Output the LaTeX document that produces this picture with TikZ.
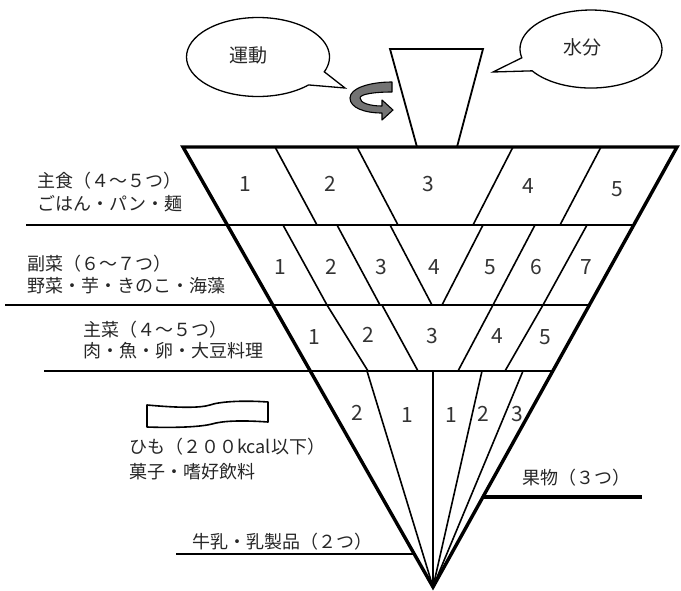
\documentclass[tikz,border=0pt]{standalone}
\usepackage{fontspec}
\setmainfont{Noto Sans CJK JP}
\begin{document}
\begin{tikzpicture}[x=1pt,y=-1pt,
  edge/.style={line width=3.4pt, line join=miter},
  rowline/.style={line width=2.4pt},
  divline/.style={line width=1.6pt},
  lbl/.style={anchor=west, inner sep=0pt, font=\fontsize{18}{18}\selectfont, text=black!85},
  num/.style={inner sep=0pt, font=\fontsize{21}{21}\selectfont, text=black!80},
  bubble/.style={line width=1.3pt, fill=white},
  bubtext/.style={inner sep=0pt, font=\fontsize{19}{19}\selectfont, text=black!85},
]
\useasboundingbox (0,0) rectangle (681,590);

% main coordinates
\coordinate (TL) at (183,147);
\coordinate (TR) at (677,147);
\coordinate (A) at (433,587);
\coordinate (L1) at (227,225); \coordinate (R1) at (634,225); \coordinate (E1) at (26,225);
\coordinate (L2) at (273,305); \coordinate (R2) at (589,305); \coordinate (E2) at (5,305);
\coordinate (L3) at (310,371); \coordinate (R3) at (553,371); \coordinate (E3) at (44,371);
\coordinate (M1) at (176,554); \coordinate (M2) at (414,554);
\coordinate (F1) at (483,497); \coordinate (F2) at (642,497);

% speech bubbles
\draw[bubble] (308.56,84.93) arc[start angle=45, end angle=382, x radius=71.5, y radius=39.5] -- (345,88) -- cycle;
\node[bubtext] (undo) at (248,55) {運動};
\draw[bubble] (521.8,57.8) arc[start angle=167, end angle=506, x radius=71, y radius=39] -- (493,72) -- cycle;
\node[bubtext] (water) at (582,47) {水分};

% cup (water)
\coordinate (C1) at (390,49); \coordinate (C2) at (483,49);
\coordinate (C3) at (457,147); \coordinate (C4) at (417,147);
\draw[line width=1.8pt, line join=miter] (C4) -- (C1) -- (C2) -- (C3);

% rotating arrow
\filldraw[fill=black!55, draw=black, line width=1.1pt, line join=round]
  (392,82) .. controls (370,82) and (350,88) .. (350,98)
  .. controls (350,108) and (365,113) .. (382,113)
  -- (382,120) -- (393,110) -- (382,100) -- (382,106)
  .. controls (370,106) and (360,103) .. (360,98)
  .. controls (360,94) and (375,92) .. (392,92) -- cycle;

% row lines
\draw[rowline] (E1) -- (R1);
\draw[rowline] (E2) -- (R2);
\draw[rowline] (E3) -- (R3);
\draw[rowline] (M1) -- (M2);
\draw[line width=3.2pt] (F1) -- (F2);

% row 1 dividers
\draw[divline] (275,147) -- (317,225);
\draw[divline] (357,147) -- (398,225);
\draw[divline] (513,147) -- (473,225);
\draw[divline] (601,147) -- (560,225);
% row 2 dividers
\draw[divline] (283,225) -- (327,305);
\draw[divline] (337,225) -- (380,305);
\draw[divline] (390,225) -- (432,305);
\draw[divline] (483,225) -- (442,305);
\draw[divline] (535,225) -- (493,305);
\draw[divline] (587,225) -- (543,305);
% row 3 dividers
\draw[divline] (327,305) -- (368,371);
\draw[divline] (382,305) -- (418,371);
\draw[divline] (493,305) -- (458,371);
\draw[divline] (543,305) -- (505,371);
% bottom fan
\draw[divline] (367,371) -- (A);
\draw[divline] (433,371) -- (A);
\draw[divline] (482,371) -- (A);
\draw[divline] (523,371) -- (A);

% outer outline
\draw[edge] (TL) -- (TR) -- (A) -- cycle;

% cell numbers
\node[num] (a1) at (245,184) {1};
\node[num] (a2) at (330,184) {2};
\node[num] (a3) at (428,184) {3};
\node[num] (a4) at (528,186) {4};
\node[num] (a5) at (617,189) {5};

\node[num] (b1) at (280,267) {1};
\node[num] (b2) at (331,267) {2};
\node[num] (b3) at (381,267) {3};
\node[num] (b4) at (434,267) {4};
\node[num] (b5) at (490,267) {5};
\node[num] (b6) at (536,267) {6};
\node[num] (b7) at (586,267) {7};

\node[num] (c1) at (314,337) {1};
\node[num] (c2) at (368,335) {2};
\node[num] (c3) at (432,336) {3};
\node[num] (c4) at (497,336) {4};
\node[num] (c5) at (545,337) {5};

\node[num] (d1) at (357,413) {2};
\node[num] (d2) at (407,415) {1};
\node[num] (d3) at (451,415) {1};
\node[num] (d4) at (483,414) {2};
\node[num] (d5) at (517,414) {3};

% string (himo)
\draw[line width=1.6pt, line join=round, fill=white]
  (147,405) .. controls (180,408) and (200,408) .. (210,405)
  .. controls (218,402) and (240,400) .. (268,402)
  -- (268,422)
  .. controls (240,420) and (222,421) .. (212,424)
  .. controls (200,427) and (175,428) .. (147,427) -- cycle;

% labels
\node[lbl] (s1) at (37,181) {主食（４～５つ）};
\node[lbl] (s2) at (37,204) {ごはん・パン・麺};
\node[lbl] (f1) at (27,264) {副菜（６～７つ）};
\node[lbl] (f2) at (27,286) {野菜・芋・きのこ・海藻};
\node[lbl] (m1) at (83,330) {主菜（４～５つ）};
\node[lbl] (m2) at (83,351) {肉・魚・卵・大豆料理};
\node[lbl] (h1) at (129,447) {ひも（２００kcal以下）};
\node[lbl] (h2) at (129,472) {菓子・嗜好飲料};
\node[lbl] (milk) at (192,542) {牛乳・乳製品（２つ）};
\node[lbl] (fruit) at (522,478) {果物（３つ）};
\end{tikzpicture}
\end{document}
